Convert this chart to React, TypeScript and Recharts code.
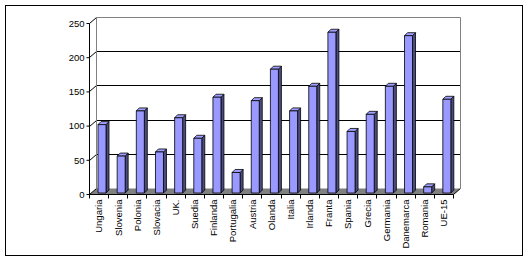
import React from "react";
import { Bar, BarChart, CartesianGrid, XAxis, YAxis } from "recharts";

const countries = [
  "Ungaria",
  "Slovenia",
  "Polonia",
  "Slovacia",
  "UK.",
  "Suedia",
  "Finlanda",
  "Portugalia",
  "Austria",
  "Olanda",
  "Italia",
  "Irlanda",
  "Franta",
  "Spania",
  "Grecia",
  "Germania",
  "Danemarca",
  "Romania",
  "UE-15",
];
const values = [100, 54, 120, 60, 110, 80, 140, 30, 135, 181, 120, 156, 235, 90, 115, 156, 230, 9, 137];
const yTicks = [0, 50, 100, 150, 200, 250];

const data = countries.map((name, i) => ({ name, value: values[i] }));

// 3d look: depth of the wall/floor and of each column
const WALL_DX = 7;
const WALL_DY = 6;
const BAR_D = 3;
const BAR_SHIFT_X = 2.5;
const BAR_SHIFT_Y = -1.5;
const PLOT_TOP = 23.5;
const PLOT_BOTTOM = 194.5;
const FONT = "'Liberation Sans', Arial, sans-serif";

// snap to pixel centre so 1px lines stay sharp
const crisp = (v: number) => Math.round(v - 0.5) + 0.5;

function Column3D(props: any) {
  const { x, y, width, height } = props;
  if (height == null || width == null) return null;
  const fx = x + BAR_SHIFT_X;
  const fy = y + BAR_SHIFT_Y;
  const w = width;
  const h = height;
  return (
    <g stroke="#000" strokeWidth={0.8} strokeLinejoin="round">
      <polygon
        points={`${fx + w},${fy} ${fx + w + BAR_D},${fy - BAR_D} ${fx + w + BAR_D},${fy + h - BAR_D} ${fx + w},${fy + h}`}
        fill="#4c4c80"
      />
      <polygon
        points={`${fx},${fy} ${fx + BAR_D},${fy - BAR_D} ${fx + w + BAR_D},${fy - BAR_D} ${fx + w},${fy}`}
        fill="#9f9fff"
      />
      <rect x={fx} y={fy} width={w} height={h} fill="#9999ff" />
    </g>
  );
}

function GridLine(p: any) {
  const { x1, x2, index } = p;
  const y1 = crisp(p.y1);
  const bx1 = x1 + WALL_DX;
  const bx2 = x2 + WALL_DX;
  const by = y1 - WALL_DY;
  if (Math.abs(y1 - PLOT_BOTTOM) < 1) {
    // floor
    return (
      <g key={`g-${index}`}>
        <polygon
          points={`${x1},${y1} ${x2},${y1} ${bx2},${by} ${bx1},${by}`}
          fill="#808080"
          stroke="none"
        />
        <line x1={x2} y1={y1} x2={bx2} y2={by} stroke="#000" strokeWidth={1} />
        <line x1={x1} y1={y1} x2={bx1} y2={by} stroke="#000" strokeWidth={1} />
      </g>
    );
  }
  if (Math.abs(y1 - PLOT_TOP) < 1) {
    // back wall frame
    return (
      <g key={`g-${index}`} fill="none">
        <line x1={x1} y1={y1} x2={bx1} y2={by} stroke="#000" strokeWidth={1} />
        <polyline
          points={`${bx1},${PLOT_BOTTOM - WALL_DY} ${bx1},${by} ${bx2},${by} ${bx2},${PLOT_BOTTOM - WALL_DY}`}
          stroke="#808080"
          strokeWidth={1}
        />
      </g>
    );
  }
  return (
    <g key={`g-${index}`}>
      <line x1={x1} y1={y1} x2={bx1} y2={by} stroke="#000" strokeWidth={1} />
      <line x1={bx1} y1={by} x2={bx2} y2={by} stroke="#000" strokeWidth={1} />
    </g>
  );
}

function CountryTick(props: any) {
  const { x, y, payload, index } = props;
  const half = (453.5 - 89.5) / countries.length / 2;
  const left = crisp(x - half);
  const right = crisp(x + half);
  return (
    <g>
      <line x1={left} y1={y - 8} x2={left} y2={y - 4} stroke="#000" />
      {index === countries.length - 1 && (
        <line x1={right} y1={y - 8} x2={right} y2={y - 4} stroke="#000" />
      )}
      <text
        x={x}
        y={y - 3}
        transform={`rotate(-90, ${x}, ${y - 3})`}
        textAnchor="end"
        dy="0.35em"
        fontSize={9.5}
        fontFamily={FONT}
        fill="#000"
      >
        {payload.value}
      </text>
    </g>
  );
}

export default function App() {
  return (
    <div style={{ position: "absolute", left: 0, top: 0, width: 529, height: 262, background: "#fff" }}>
      <div
        style={{
          position: "absolute",
          left: 5,
          top: 5,
          width: 518,
          height: 251,
          border: "1px solid #000",
          boxSizing: "border-box",
        }}
      />
      <div style={{ position: "absolute", left: 0, top: 0 }}>
        <BarChart
          width={529}
          height={262}
          data={data}
          margin={{ top: PLOT_TOP, right: 75.5, bottom: 0, left: 0 }}
          barSize={8}
        >
          <CartesianGrid vertical={false} horizontal={GridLine as any} />
          <XAxis
            dataKey="name"
            interval={0}
            height={262 - PLOT_BOTTOM}
            axisLine={{ stroke: "#000" }}
            tickLine={false}
            tick={<CountryTick />}
          />
          <YAxis
            domain={[0, 250]}
            ticks={yTicks}
            width={89.5}
            axisLine={{ stroke: "#000" }}
            tickLine={{ stroke: "#000" }}
            tickSize={3}
            tickMargin={2}
            tick={{ fontSize: 9.5, fontFamily: FONT, fill: "#000" }}
          />
          <Bar dataKey="value" shape={Column3D} isAnimationActive={false} />
        </BarChart>
      </div>
    </div>
  );
}
